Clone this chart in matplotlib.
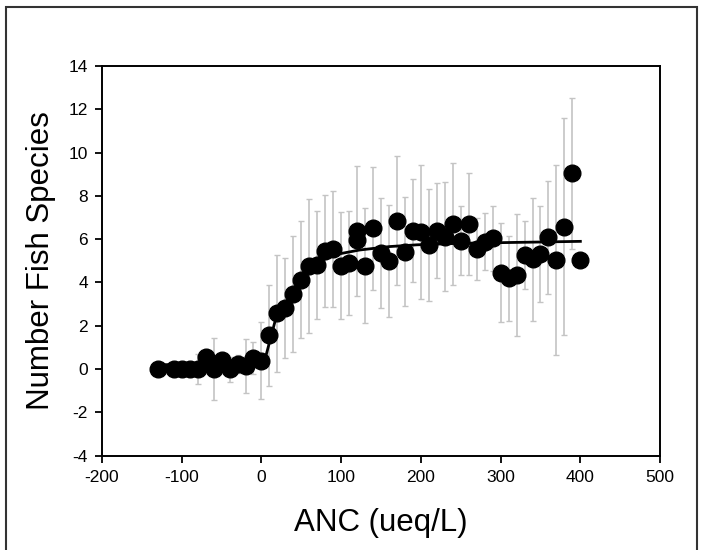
import matplotlib
matplotlib.use('Agg')
import matplotlib.pyplot as plt
import numpy as np
from matplotlib.patches import Rectangle

plt.rcParams['font.family'] = ['Liberation Sans', 'DejaVu Sans']
plt.rcParams['axes.unicode_minus'] = False

# mean number of fish species per ANC bin, with standard deviation
anc = [-130, -110, -100, -90, -80, -70, -60, -50, -40, -30, -20, -10, 0,
       10, 20, 30, 40, 50, 60, 70, 80, 90, 100, 110, 120, 120, 130, 140,
       150, 160, 170, 180, 190, 200, 210, 220, 230, 240, 250, 260, 270,
       280, 290, 300, 310, 320, 330, 340, 350, 360, 370, 380, 390, 400]
species = [0.0, 0.0, 0.0, 0.0, 0.0, 0.55, 0.0, 0.43, 0.0, 0.23, 0.15, 0.5, 0.38,
           1.56, 2.58, 2.81, 3.47, 4.12, 4.77, 4.8, 5.46, 5.54, 4.77, 4.89, 6.38, 5.94,
           4.77, 6.5, 5.35, 5.0, 6.86, 5.43, 6.4, 6.35, 5.74, 6.4, 6.12, 6.7,
           5.93, 6.7, 5.55, 5.89, 6.04, 4.46, 4.2, 4.35, 5.26, 5.08, 5.32, 6.09,
           5.05, 6.58, 9.04, 5.04]
sd = [0, 0, 0, 0, 0.7, 0, 1.42, 0, 0.58, 0.4, 1.25, 0.73, 1.78,
      2.32, 2.7, 2.3, 2.7, 2.7, 3.1, 2.5, 2.6, 2.67, 2.47, 2.4, 3.0, 0,
      2.66, 2.83, 2.55, 2.6, 2.96, 2.5, 2.4, 3.1, 2.6, 2.2, 2.5, 2.8,
      1.6, 2.36, 1.45, 1.3, 1.5, 2.3, 1.96, 2.8, 1.56, 2.84, 2.2, 2.6,
      4.4, 5.0, 3.5, 0]

# fitted curve
fit_x = [-130, 3, 17, 27, 38, 54, 69, 90, 123, 161, 195, 249, 300, 350, 400]
fit_y = [0.2, 0.25, 2.2, 2.8, 3.5, 4.4, 4.9, 5.27, 5.5, 5.66, 5.74, 5.81, 5.84, 5.87, 5.9]

anc = np.array(anc)
species = np.array(species)
sd = np.array(sd)

fig = plt.figure(figsize=(7.02, 5.5), dpi=100)
ax = fig.add_axes([0.1453, 0.1715, 0.795, 0.7085])

has_err = sd > 0
ax.errorbar(anc[has_err], species[has_err], yerr=sd[has_err], fmt='none',
            ecolor='#c4c4c4', elinewidth=1.2, capsize=2.5, capthick=1.0, zorder=1)
ax.plot(fit_x, fit_y, color='black', lw=2, zorder=2)
ax.plot(anc, species, 'o', color='black', markersize=12, zorder=3)

ax.set_xlim(-200, 500)
ax.set_ylim(-4, 14)
ax.set_xticks(range(-200, 501, 100))
ax.set_yticks(range(-4, 15, 2))
ax.tick_params(direction='out', length=5, width=1.3, labelsize=12.5, pad=5,
               top=False, right=False)
for s in ax.spines.values():
    s.set_linewidth(1.4)

ax.set_xlabel('ANC (ueq/L)', fontsize=22.5, labelpad=17)
ax.set_ylabel('Number Fish Species', fontsize=22.5, labelpad=9)

# outer frame around the figure
fig.patches.append(Rectangle((6 / 702, -0.02), 691 / 702, 1 - 7 / 550 + 0.02,
                             transform=fig.transFigure, fill=False,
                             edgecolor='#333333', linewidth=1.5))

fig.savefig('out.png', dpi=100)
